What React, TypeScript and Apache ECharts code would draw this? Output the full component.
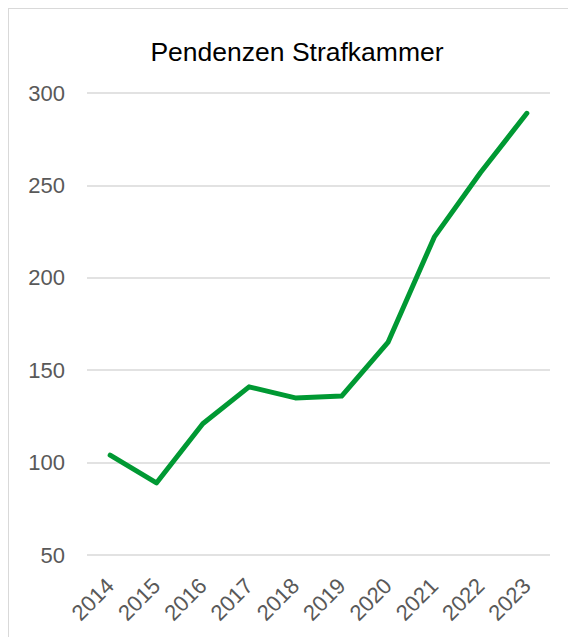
import React, { useEffect, useRef } from "react";
import * as echarts from "echarts";

const years = ["2014", "2015", "2016", "2017", "2018", "2019", "2020", "2021", "2022", "2023"];
const pendenzen = [104, 89, 121, 141, 135, 136, 165, 222, 257, 289];
const titleText = "Pendenzen Strafkammer";

export default function App() {
  const ref = useRef<HTMLDivElement>(null);
  useEffect(() => {
    const chart = echarts.init(ref.current!, undefined, { renderer: "svg" });
    chart.setOption({
      animation: false,
      backgroundColor: "#ffffff",
      title: {
        text: titleText,
        left: "center",
        top: 24,
        textStyle: { fontFamily: "Liberation Sans", fontSize: 26.5, fontWeight: "normal", color: "#000000" },
      },
      grid: { left: 78, right: 35, top: 84, bottom: 91 },
      xAxis: {
        type: "category",
        data: years,
        boundaryGap: true,
        axisLine: { show: false },
        axisTick: { show: false },
        axisLabel: {
          rotate: 45,
          margin: 27,
          fontFamily: "Liberation Sans",
          fontSize: 22,
          color: "#595959",
        },
      },
      yAxis: {
        type: "value",
        min: 50,
        max: 300,
        interval: 50,
        axisLine: { show: false },
        axisTick: { show: false },
        splitLine: { lineStyle: { color: "#d9d9d9", width: 1.5 } },
        axisLabel: {
          margin: 22,
          fontFamily: "Liberation Sans",
          fontSize: 22,
          color: "#595959",
        },
      },
      series: [
        {
          type: "line",
          data: pendenzen,
          showSymbol: false,
          lineStyle: { color: "#009933", width: 5, cap: "round", join: "round" },
          itemStyle: { color: "#009933" },
        },
      ],
    });
    return () => chart.dispose();
  }, []);
  return <div ref={ref} style={{ width: 576, height: 637, border: "1px solid #d9d9d9" }} />;
}
